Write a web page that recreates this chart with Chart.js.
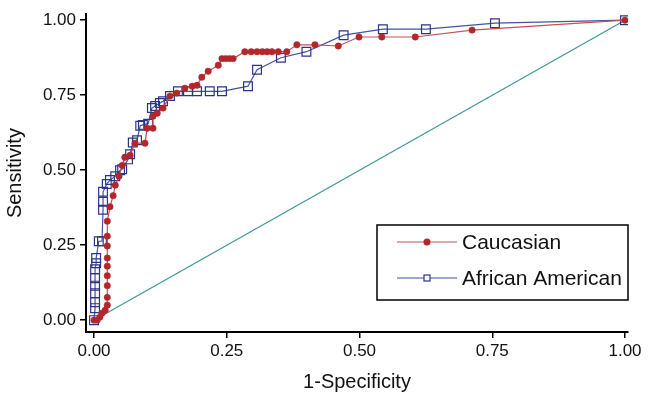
<!DOCTYPE html>
<html>
<head>
<meta charset="utf-8">
<title>ROC curves</title>
<script src="https://cdn.jsdelivr.net/npm/chart.js@4.4.1/dist/chart.umd.min.js"></script>
<style>
  html, body { margin: 0; padding: 0; background: #fff; }
  canvas { display: block; }
</style>
</head>
<body>
<canvas id="roc" width="649" height="398"></canvas>
<script>
// ROC points: 1-specificity (x) and sensitivity (y) for each group
const caucasianFpr = [0, 0.006, 0.011, 0.015, 0.021, 0.025, 0.025, 0.025, 0.025, 0.025, 0.025, 0.025, 0.025, 0.025,
  0.03, 0.036, 0.04, 0.047, 0.053, 0.058, 0.068, 0.077, 0.096, 0.10, 0.111, 0.111, 0.119, 0.13, 0.143, 0.156,
  0.171, 0.185, 0.194, 0.203, 0.215, 0.234, 0.241, 0.248, 0.255, 0.262, 0.284, 0.296, 0.307, 0.317, 0.326,
  0.335, 0.347, 0.363, 0.382, 0.416, 0.46, 0.499, 0.542, 0.605, 0.712, 1];
const caucasianTpr = [0, 0, 0.01, 0.023, 0.033, 0.05, 0.076, 0.115, 0.148, 0.18, 0.207, 0.247, 0.28, 0.33,
  0.378, 0.415, 0.45, 0.48, 0.516, 0.543, 0.55, 0.59, 0.59, 0.64, 0.64, 0.68, 0.69, 0.707, 0.747, 0.757,
  0.773, 0.78, 0.783, 0.81, 0.83, 0.85, 0.872, 0.872, 0.872, 0.872, 0.895, 0.895, 0.895, 0.895, 0.895,
  0.895, 0.895, 0.895, 0.918, 0.918, 0.914, 0.944, 0.944, 0.944, 0.967, 1];

const africanFpr = [0, 0.002, 0.002, 0.002, 0.002, 0.002, 0.002, 0.004, 0.004, 0.009, 0.015, 0.017, 0.017, 0.017,
  0.024, 0.03, 0.04, 0.049, 0.053, 0.064, 0.068, 0.073, 0.081, 0.087, 0.092, 0.102, 0.109, 0.115, 0.124, 0.13,
  0.143, 0.158, 0.177, 0.194, 0.218, 0.241, 0.29, 0.307, 0.352, 0.40, 0.47, 0.544, 0.625, 0.755, 1];
const africanTpr = [0, 0.04, 0.06, 0.09, 0.115, 0.14, 0.17, 0.19, 0.207, 0.263, 0.263, 0.368, 0.395, 0.428,
  0.454, 0.467, 0.48, 0.5, 0.503, 0.536, 0.553, 0.592, 0.6, 0.648, 0.651, 0.655, 0.707, 0.714, 0.724, 0.73,
  0.747, 0.763, 0.763, 0.763, 0.763, 0.763, 0.78, 0.835, 0.875, 0.895, 0.95, 0.97, 0.97, 0.99, 1];

const referenceLine = [0, 1];
const tickValues = [0, 0.25, 0.5, 0.75, 1];

const toPoints = (xs, ys) => xs.map((x, i) => ({ x: x, y: ys[i] }));

const fontFamily = "'Liberation Sans', Arial, sans-serif";
const axisFont = { family: fontFamily, size: 17 };
const titleFont = { family: fontFamily, size: 20 };

// legend drawn as a boxed key inside the plot, lower right
const boxedLegend = {
  id: 'boxedLegend',
  afterDraw(chart) {
    const ctx = chart.ctx;
    const left = 377, top = 225, right = 628, bottom = 300;
    ctx.save();
    ctx.strokeStyle = '#000';
    ctx.lineWidth = 1.5;
    ctx.strokeRect(left, top, right - left, bottom - top);

    const rows = [
      { ds: chart.data.datasets[0], y: 242 },
      { ds: chart.data.datasets[1], y: 278 }
    ];
    rows.forEach((row) => {
      ctx.strokeStyle = row.ds.borderColor;
      ctx.lineWidth = 1.2;
      ctx.beginPath();
      ctx.moveTo(397, row.y);
      ctx.lineTo(457, row.y);
      ctx.stroke();
      if (row.ds.pointStyle === 'rect') {
        ctx.fillStyle = '#fff';
        ctx.strokeStyle = row.ds.pointBorderColor;
        ctx.fillRect(424, row.y - 3, 6, 6);
        ctx.strokeRect(424, row.y - 3, 6, 6);
      } else {
        ctx.fillStyle = row.ds.pointBackgroundColor;
        ctx.beginPath();
        ctx.arc(427, row.y, 3.5, 0, Math.PI * 2);
        ctx.fill();
      }
      ctx.fillStyle = '#111';
      ctx.font = '21px ' + fontFamily;
      ctx.textBaseline = 'middle';
      ctx.fillText(row.ds.label, 462, row.y + 1);
    });
    ctx.restore();
  }
};

new Chart(document.getElementById('roc'), {
  type: 'line',
  data: {
    datasets: [
      {
        label: 'Caucasian',
        data: toPoints(caucasianFpr, caucasianTpr),
        borderColor: '#c4505a',
        borderWidth: 1.2,
        pointStyle: 'circle',
        pointRadius: 3.2,
        pointBackgroundColor: '#b3262c',
        pointBorderColor: '#b3262c',
        pointBorderWidth: 0.5,
        order: 0
      },
      {
        label: 'African American',
        data: toPoints(africanFpr, africanTpr),
        borderColor: '#44539f',
        borderWidth: 1.2,
        pointStyle: 'rect',
        pointRadius: 6.2,
        pointBackgroundColor: 'rgba(255,255,255,0)',
        pointBorderColor: '#2b3585',
        pointBorderWidth: 1.2,
        order: 1
      },
      {
        label: 'Reference',
        data: toPoints(referenceLine, referenceLine),
        borderColor: '#3a9694',
        borderWidth: 1.1,
        pointRadius: 0,
        order: 2
      }
    ]
  },
  options: {
    responsive: false,
    animation: false,
    layout: { padding: { top: 10, right: 21, bottom: 4, left: 0 } },
    plugins: {
      legend: { display: false },
      tooltip: { enabled: false }
    },
    elements: { line: { tension: 0, fill: false } },
    scales: {
      x: {
        type: 'linear',
        min: -0.0151,
        max: 1.0056,
        afterBuildTicks: (scale) => { scale.ticks = tickValues.map((v) => ({ value: v })); },
        afterFit: (scale) => { scale.height = 62; },
        ticks: {
          color: '#111',
          font: axisFont,
          padding: 3,
          maxRotation: 0,
          callback: (v) => Number(v).toFixed(2)
        },
        grid: { drawOnChartArea: false, drawTicks: true, tickLength: 6, color: '#000', lineWidth: 1.5 },
        border: { display: true, color: '#000', width: 2 },
        title: { display: true, text: '1-Specificity', color: '#111', font: titleFont, padding: { top: 0, bottom: 0 } }
      },
      y: {
        type: 'linear',
        min: -0.0395,
        max: 1.02,
        afterBuildTicks: (scale) => { scale.ticks = tickValues.map((v) => ({ value: v })); },
        afterFit: (scale) => { scale.width = 86; },
        ticks: {
          color: '#111',
          font: axisFont,
          padding: 4,
          callback: (v) => Number(v).toFixed(2)
        },
        grid: { drawOnChartArea: false, drawTicks: true, tickLength: 6, color: '#000', lineWidth: 1.5 },
        border: { display: true, color: '#000', width: 2 },
        title: { display: true, text: 'Sensitivity', color: '#111', font: titleFont, padding: { top: 3, bottom: 0 } }
      }
    }
  },
  plugins: [boxedLegend]
});
</script>
</body>
</html>
